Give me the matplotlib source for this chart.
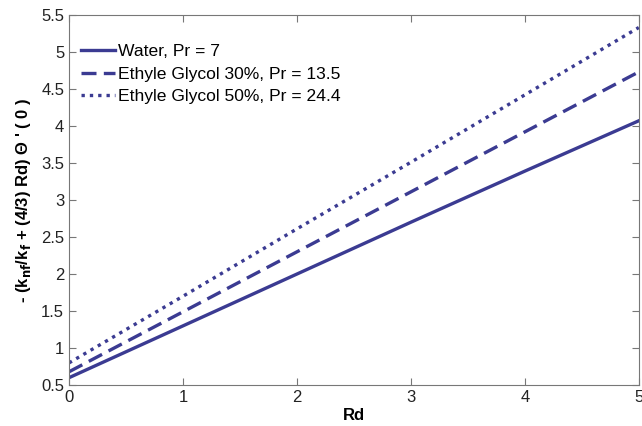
import matplotlib
matplotlib.use("Agg")
import matplotlib.pyplot as plt

plt.rcParams['font.family'] = ['Liberation Sans', 'DejaVu Sans']

rd = [0, 1, 2, 3, 4, 5]
water = [0.60, 1.30, 2.00, 2.70, 3.39, 4.07]
eg30 = [0.68, 1.49, 2.30, 3.11, 3.92, 4.73]
eg50 = [0.80, 1.70, 2.61, 3.51, 4.42, 5.33]
labels = ["Water, Pr = 7", "Ethyle Glycol 30%, Pr = 13.5", "Ethyle Glycol 50%, Pr = 24.4"]

color = "#3b3b92"
fig = plt.figure(figsize=(6.42, 4.26), dpi=100)
ax = fig.add_axes([0.1075, 0.096, 0.8875, 0.869])
ax.plot(rd, water, '-', color=color, lw=2.4, label=labels[0])
ax.plot(rd, eg30, '--', color=color, lw=2.4, dashes=(4.5, 2.2), label=labels[1])
ax.plot(rd, eg50, ':', color=color, lw=2.4, dashes=(1, 1.5), label=labels[2])

ax.set_xlim(0, 5)
ax.set_ylim(0.5, 5.5)
ax.set_xticks([0, 1, 2, 3, 4, 5])
ax.set_yticks([0.5, 1, 1.5, 2, 2.5, 3, 3.5, 4, 4.5, 5, 5.5])
ax.set_yticklabels(['0.5', '1', '1.5', '2', '2.5', '3', '3.5', '4', '4.5', '5', '5.5'])
ax.tick_params(direction='in', top=True, right=True, labelsize=12, length=5, color='#777777', labelcolor='#222222')
for s in ax.spines.values():
    s.set_color('#777777')
ax.set_xlabel('Rd', fontsize=12, fontweight='bold', labelpad=2)
ax.set_ylabel(r"- (k$_{\mathbf{nf}}$/k$_{\mathbf{f}}$ + (4/3) Rd) Θ ' ( 0 )", fontsize=12, fontweight='bold', labelpad=6)
leg = ax.legend(loc='upper left', frameon=False, fontsize=12.6, handlelength=1.9, handletextpad=0.2,
                labelspacing=0.42, borderaxespad=0.3, bbox_to_anchor=(0.0, 0.955))
fig.savefig('out.png', dpi=100)
